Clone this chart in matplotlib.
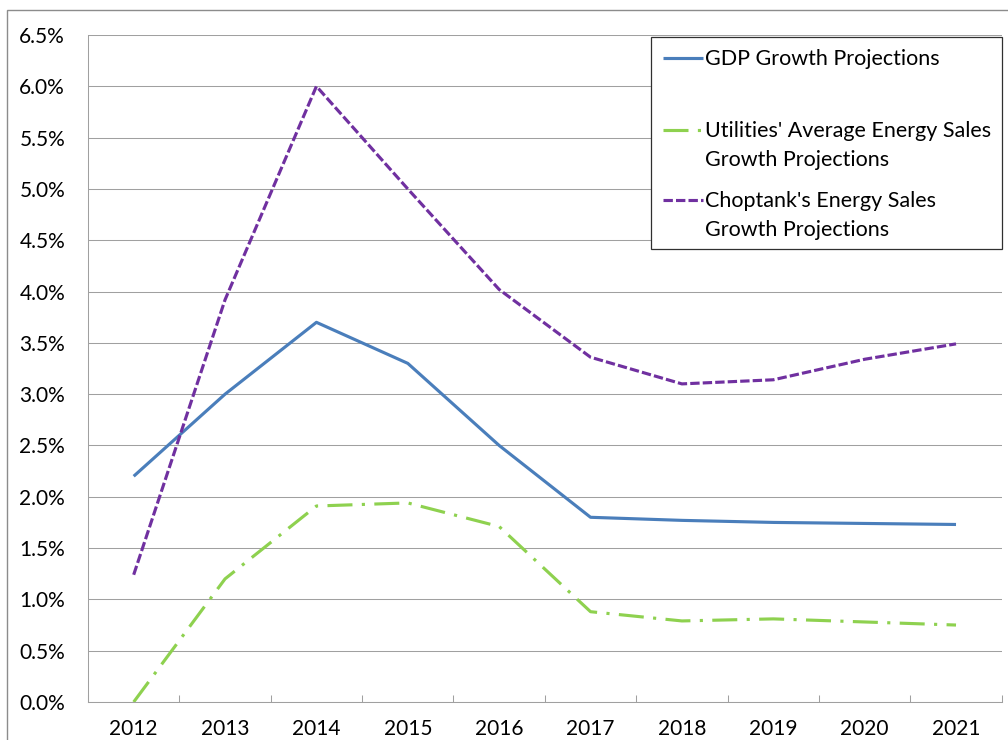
import matplotlib
matplotlib.use("Agg")
import matplotlib.pyplot as plt
from matplotlib.lines import Line2D
from matplotlib.patches import Rectangle
from matplotlib.ticker import FixedLocator, FuncFormatter

plt.rcParams['font.family'] = ['Lato', 'DejaVu Sans']

years = ['2012', '2013', '2014', '2015', '2016', '2017', '2018', '2019', '2020', '2021']
gdp = [2.2, 3.0, 3.7, 3.3, 2.5, 1.8, 1.77, 1.75, 1.74, 1.73]
utilities = [0.0, 1.2, 1.91, 1.94, 1.71, 0.88, 0.79, 0.81, 0.78, 0.75]
choptank = [1.24, 3.92, 6.0, 5.0, 4.02, 3.36, 3.10, 3.14, 3.34, 3.49]
labels = ["GDP Growth Projections",
          "Utilities' Average Energy Sales\nGrowth Projections",
          "Choptank's Energy Sales\nGrowth Projections"]
y_ticks = [0.0, 0.5, 1.0, 1.5, 2.0, 2.5, 3.0, 3.5, 4.0, 4.5, 5.0, 5.5, 6.0, 6.5]

FS = 15
LFS = 15.5
W, H = 1008, 740
fig = plt.figure(figsize=(W / 100, H / 100), dpi=100)
ax = fig.add_axes([88 / W, 1 - 702 / H, (1001.7 - 88) / W, (702 - 35) / H])

grid_c = '#a0a0a0'
styles = [
    dict(color='#4a7ebb', linestyle='-', lw=2.25),
    dict(color='#8ed14f', linestyle=(0, (8, 3, 1, 3)), lw=2.25),
    dict(color='#7030a0', linestyle=(0, (3, 1)), lw=2.25),
]
series = [gdp, utilities, choptank]
x = list(range(len(years)))
for vals, st in zip(series, styles):
    ax.plot(x, vals, solid_capstyle='butt', dash_capstyle='butt', zorder=3, **st)

ax.set_xlim(-0.5, len(years) - 0.5)
ax.set_ylim(0, 6.5)
ax.yaxis.set_major_locator(FixedLocator(y_ticks))
ax.yaxis.set_major_formatter(FuncFormatter(lambda v, p: f"{v:.1f}%"))
ax.set_xticks(x)
ax.set_xticklabels(years)
ax.xaxis.set_minor_locator(FixedLocator([i - 0.5 for i in range(len(years) + 1)]))
ax.tick_params(axis='x', which='major', length=0, pad=12, labelsize=FS, colors='black')
ax.tick_params(axis='x', which='minor', direction='in', length=5, width=0.75, color=grid_c)
ax.tick_params(axis='y', which='major', length=0, pad=16.5, labelsize=FS, colors='black')
ax.yaxis.grid(True, color=grid_c, lw=0.75)
ax.set_axisbelow(True)
for s in ['top', 'right']:
    ax.spines[s].set_visible(False)
for s in ['left', 'bottom']:
    ax.spines[s].set_color(grid_c)
    ax.spines[s].set_linewidth(0.75)

# outer chart border
fig.patches.append(Rectangle((7 / W, -0.5), 2, 1.5 - 10 / H, transform=fig.transFigure,
                             fill=False, edgecolor='#8c8c8c', lw=1.0, clip_on=False))

# legend (manual, Excel-style layout)
def fx(px):
    return px / W

def fy(py):
    return 1 - py / H

fig.patches.append(Rectangle((fx(651), fy(249)), fx(1002) - fx(651), fy(37) - fy(249),
                             transform=fig.transFigure, facecolor='white',
                             edgecolor='#303030', lw=0.9, zorder=5))
entry_y = [58, 130, 200]
line_step = 28.5
for lab, st, ey in zip(labels, styles, entry_y):
    fig.add_artist(Line2D([fx(663), fx(703)], [fy(ey), fy(ey)], transform=fig.transFigure,
                          solid_capstyle='butt', dash_capstyle='butt', zorder=6, **st))
    for i, ln in enumerate(lab.split('\n')):
        fig.text(fx(705), fy(ey + 7 + i * line_step), ln, fontsize=LFS, ha='left',
                 va='baseline', color='black', zorder=6)

fig.savefig('out.png', dpi=100)
